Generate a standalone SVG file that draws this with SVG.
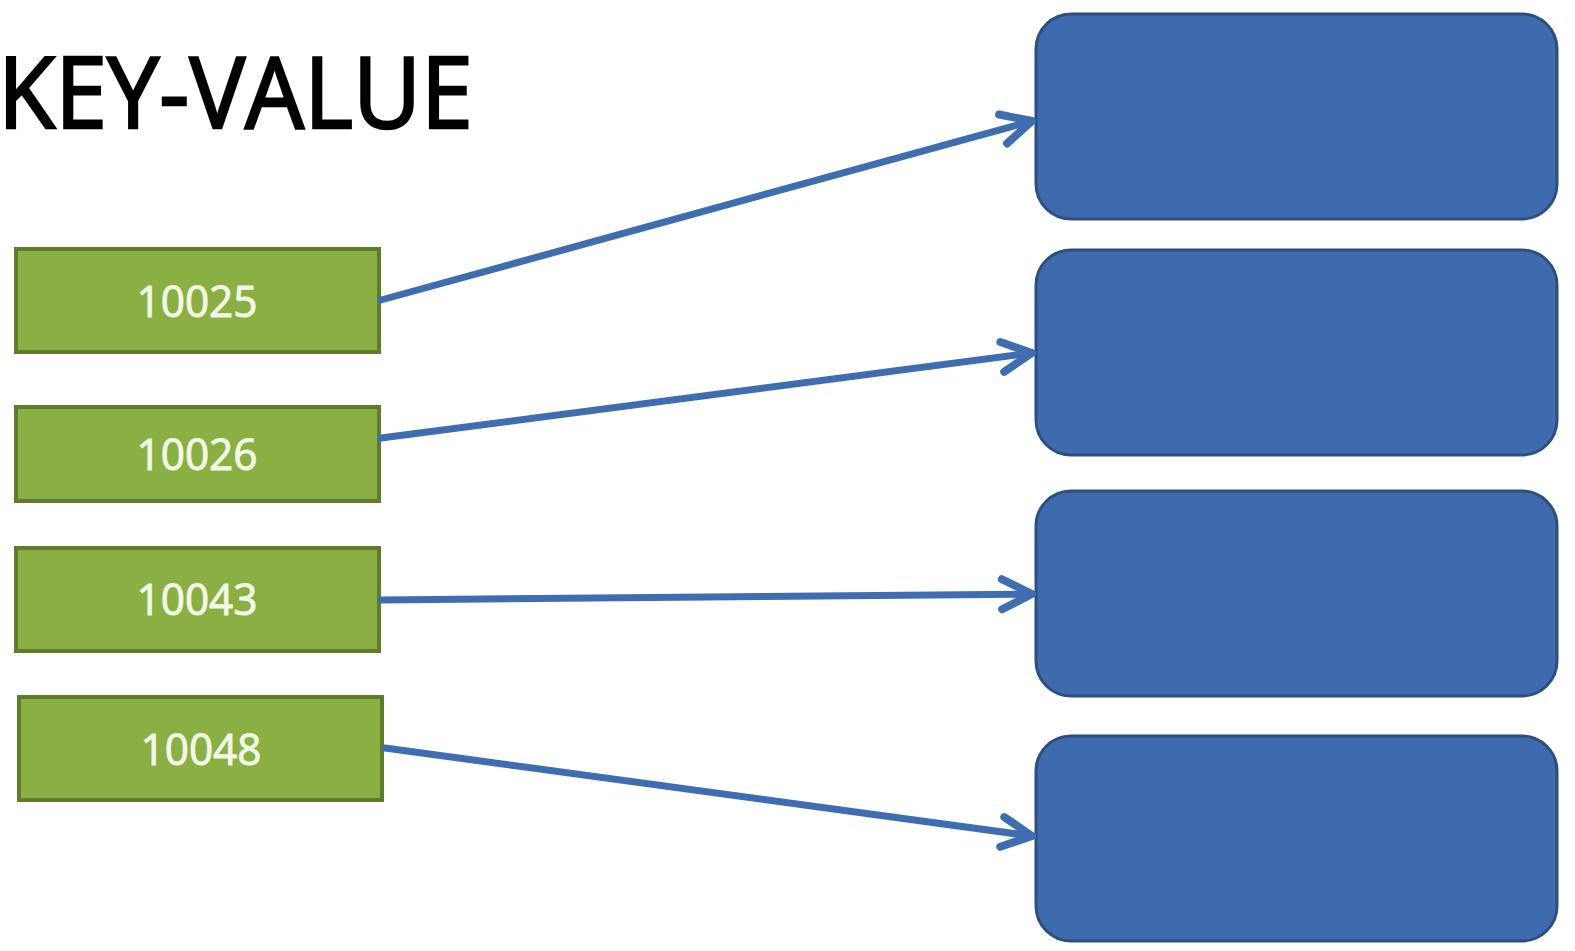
<svg xmlns="http://www.w3.org/2000/svg" width="1575" height="951" viewBox="0 0 1575 951">
<style>
.key rect{fill:#8AB043;stroke:#5E7C2C;stroke-width:4}
.key text{fill:#F3F7E6;stroke:#F3F7E6;stroke-width:1;font-family:"Open Sans","Liberation Sans",sans-serif;font-size:44px;text-anchor:middle}
.val rect{fill:#3E6BAE;stroke:#2D4F80;stroke-width:3}
.title{font-family:"Open Sans","Liberation Sans",sans-serif;font-size:98px;fill:#000;stroke:#000;stroke-width:2.5}
</style>
<defs>
<marker id="arr" markerUnits="userSpaceOnUse" markerWidth="48" markerHeight="48" viewBox="-40 -24 48 48" refX="0" refY="0" orient="auto">
<path d="M-30,-15 L0,0 L-30,15" fill="none" stroke="#3F6DB2" stroke-width="8" stroke-linecap="round" stroke-linejoin="round"/>
</marker>
</defs>
<rect width="1575" height="951" fill="#fff"/>
<text class="title" x="-2" y="128" textLength="475" lengthAdjust="spacingAndGlyphs">KEY-VALUE</text>
<g id="k10025" class="key"><rect x="16" y="249" width="363" height="103"/><text x="197" y="317" textLength="121" lengthAdjust="spacingAndGlyphs">10025</text></g>
<g id="k10026" class="key"><rect x="16" y="407" width="363" height="94"/><text x="197" y="470" textLength="121" lengthAdjust="spacingAndGlyphs">10026</text></g>
<g id="k10043" class="key"><rect x="16" y="548" width="363" height="103"/><text x="197" y="615" textLength="121" lengthAdjust="spacingAndGlyphs">10043</text></g>
<g id="k10048" class="key"><rect x="19" y="697" width="363" height="103"/><text x="201" y="765" textLength="121" lengthAdjust="spacingAndGlyphs">10048</text></g>
<g id="v1" class="val"><rect x="1036" y="14" width="521" height="205" rx="35"/></g>
<g id="v2" class="val"><rect x="1036" y="250" width="521" height="205" rx="35"/></g>
<g id="v3" class="val"><rect x="1036" y="491" width="521" height="205" rx="35"/></g>
<g id="v4" class="val"><rect x="1036" y="736" width="521" height="205" rx="35"/></g>
<g id="connectors" stroke="#3F6DB2" stroke-width="7" stroke-linecap="round" fill="none">
<line x1="381" y1="300" x2="1032" y2="121" marker-end="url(#arr)"/>
<line x1="381" y1="438" x2="1032" y2="353" marker-end="url(#arr)"/>
<line x1="381" y1="600" x2="1032" y2="594" marker-end="url(#arr)"/>
<line x1="385" y1="748" x2="1032" y2="836" marker-end="url(#arr)"/>
</g>
</svg>
